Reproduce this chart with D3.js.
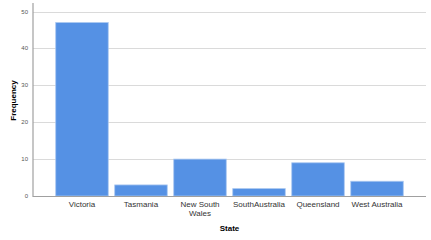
<!DOCTYPE html>
<html>
<head>
<meta charset="utf-8">
<script src="https://cdn.jsdelivr.net/npm/d3@7"></script>
<style>
  body { margin: 0; background: #fff; }
  svg { display: block; font-family: "Liberation Sans", Arial, sans-serif; }
  .grid line { stroke: #dadada; stroke-width: 1; }
  .ytick text { fill: #555; font-size: 6px; }
  .xlab { fill: #333; font-size: 8px; }
  .title { fill: #000; font-size: 8px; font-weight: bold; }
</style>
</head>
<body>
<svg width="431" height="240"></svg>
<script>
(function() {

	var states = ['Victoria', 'Tasmania', 'New South Wales', 'SouthAustralia', 'Queensland', 'West Australia']
	var stateLines = [['Victoria'], ['Tasmania'], ['New South', 'Wales'], ['SouthAustralia'], ['Queensland'], ['West Australia']]
	var frequency = [47, 3, 10, 2, 9, 4]
	var yTicks = [0, 10, 20, 30, 40, 50]

	var svg = d3.select('svg')
	var left = 33, right = 426, bottom = 196, top = 3

	var x = d3.scaleBand().domain(states).range([left, right])
		.paddingInner(0.11).paddingOuter(0.385)
	var y = d3.scaleLinear().domain([0, 50]).range([bottom, 11.5])

	// gridlines
	svg.append('g').attr('class', 'grid')
		.selectAll('line')
		.data(yTicks.filter(function(d) { return d > 0 }))
		.enter().append('line')
		.attr('x1', left).attr('x2', right)
		.attr('y1', function(d) { return Math.round(y(d)) + 0.5 })
		.attr('y2', function(d) { return Math.round(y(d)) + 0.5 })

	// bars
	svg.append('g')
		.selectAll('rect')
		.data(frequency)
		.enter().append('rect')
		.attr('x', function(d, i) { return x(states[i]) })
		.attr('y', function(d) { return y(d) })
		.attr('width', x.bandwidth())
		.attr('height', function(d) { return bottom - y(d) })
		.attr('fill', '#5591e4')
		.attr('stroke', '#a9c7f0')
		.attr('stroke-width', 0.8)

	// axes lines
	svg.append('line')
		.attr('x1', left).attr('x2', right)
		.attr('y1', bottom + 0.5).attr('y2', bottom + 0.5)
		.attr('stroke', '#a0a0a0').attr('stroke-width', 1.2)
	svg.append('line')
		.attr('x1', left).attr('x2', left)
		.attr('y1', top).attr('y2', bottom + 1)
		.attr('stroke', '#a0a0a0').attr('stroke-width', 1.2)

	// y tick labels
	svg.append('g').attr('class', 'ytick')
		.selectAll('text')
		.data(yTicks)
		.enter().append('text')
		.attr('x', left - 5)
		.attr('y', function(d) { return y(d) + 2 })
		.attr('text-anchor', 'end')
		.text(function(d) { return d })

	// x labels
	var xl = svg.append('g')
		.selectAll('text')
		.data(states)
		.enter().append('text')
		.attr('class', 'xlab')
		.attr('text-anchor', 'middle')
		.attr('x', function(d) { return x(d) + x.bandwidth() / 2 })
		.attr('y', 207)
	xl.selectAll('tspan')
		.data(function(d, i) { return stateLines[i] })
		.enter().append('tspan')
		.attr('x', function() { var p = this.parentNode; return p.getAttribute('x') })
		.attr('dy', function(d, i) { return i ? 8.5 : 0 })
		.text(function(d) { return d })

	svg.append('text').attr('class', 'title')
		.attr('x', (left + right) / 2)
		.attr('y', 231)
		.attr('text-anchor', 'middle')
		.text('State')

	svg.append('text').attr('class', 'title')
		.attr('transform', 'translate(16,' + ((top + bottom) / 2 + 1) + ')rotate(-90)')
		.attr('text-anchor', 'middle')
		.text('Frequency')

})()
</script>
</body>
</html>
